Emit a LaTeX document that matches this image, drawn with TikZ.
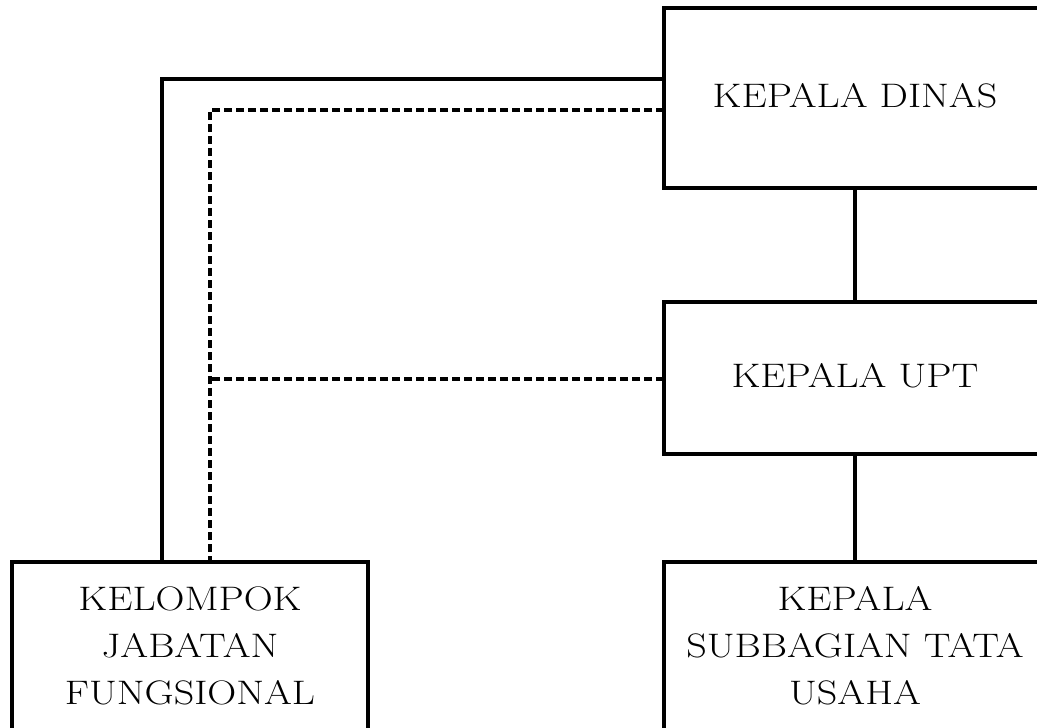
\documentclass[tikz,border=0pt]{standalone}
\usepackage{graphicx}
\newcommand{\wtxt}[1]{\scalebox{1.18}[1]{\begin{tabular}{@{}c@{}}#1\end{tabular}}}
\begin{document}
\begin{tikzpicture}[x=1pt,y=-1pt,
  box/.style={draw=black, line width=3.2pt, rectangle, inner sep=0pt, align=center,
    font=\fontsize{34}{47}\selectfont},
  solidline/.style={draw=black, line width=3.2pt},
  dashline/.style={draw=black, line width=3.2pt, dash pattern=on 8pt off 4pt}]
\useasboundingbox (0,0) rectangle (1037,728);
\begin{scope}
\clip (0,0) rectangle (1037,728);
\node[box, minimum width=382pt, minimum height=180pt] (dinas) at (855,98) {\wtxt{KEPALA DINAS}};
\node[box, minimum width=382pt, minimum height=152pt] (upt) at (855,378) {\wtxt{KEPALA UPT}};
\node[box, minimum width=382pt, minimum height=172pt] (tu) at (855,648) {\wtxt{KEPALA\\SUBBAGIAN TATA\\USAHA}};
\node[box, minimum width=356pt, minimum height=172pt] (kel) at (190,648) {\wtxt{KELOMPOK\\JABATAN\\FUNGSIONAL}};
\coordinate (s1) at (664,79);
\coordinate (s2) at (162,563);
\coordinate (d1) at (664,110);
\coordinate (d2) at (210,563);
\coordinate (d3) at (664,379);
\coordinate (d4) at (210,379);
\draw[solidline] (dinas.south) -- (upt.north);
\draw[solidline] (upt.south) -- (tu.north);
\draw[solidline] (s1) -| (s2);
\draw[dashline] (d1) -| (d2);
\draw[dashline] (d3) -- (d4);
\end{scope}
\end{tikzpicture}
\end{document}
